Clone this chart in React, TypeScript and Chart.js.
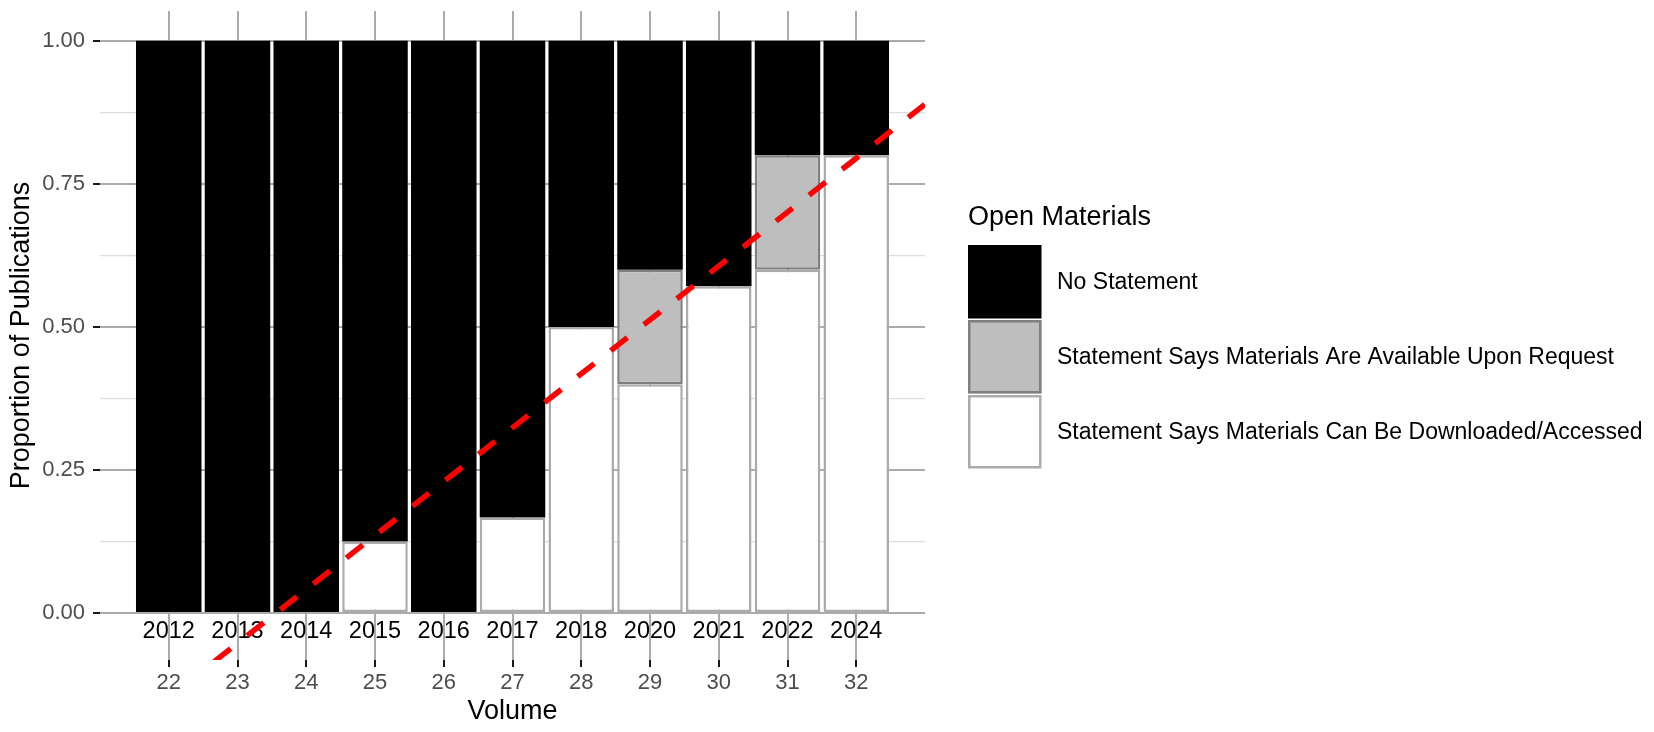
import React, { useEffect, useRef } from 'react';
import { Chart, registerables } from 'chart.js';

Chart.register(...registerables);

// ---- data ----
const volumes = [22, 23, 24, 25, 26, 27, 28, 29, 30, 31, 32];
const years = ['2012', '2013', '2014', '2015', '2016', '2017', '2018', '2020', '2021', '2022', '2024'];
const downloadable = [0, 0, 0, 0.125, 0, 0.167, 0.5, 0.4, 0.571, 0.6, 0.8];
const uponRequest = [0, 0, 0, 0, 0, 0, 0, 0.2, 0, 0.2, 0];
const noStatement = [1, 1, 1, 0.875, 1, 0.833, 0.5, 0.4, 0.429, 0.2, 0.2];
const yTickValues = [0, 0.125, 0.25, 0.375, 0.5, 0.625, 0.75, 0.875, 1];
const trendVolumes = [21, 33];
const trendValues = [-0.241, 0.889];
const seriesLabels = [
  'Statement Says Materials Can Be Downloaded/Accessed',
  'Statement Says Materials Are Available Upon Request',
  'No Statement',
];
const legendTitle = 'Open Materials';
const xTitle = 'Volume';
const yTitle = 'Proportion of Publications';

const FONT = '"Liberation Sans", Arial, sans-serif';

const isMajor = (v: number) => Math.abs(v * 4 - Math.round(v * 4)) < 1e-9;

const yearLabelsPlugin = {
  id: 'yearLabels',
  beforeDatasetsDraw(chart: any, _args: any, opts: any) {
    const { ctx, scales } = chart;
    ctx.save();
    ctx.font = `${opts.size}px ${FONT}`;
    ctx.fillStyle = opts.color;
    ctx.textAlign = 'center';
    ctx.textBaseline = 'middle';
    const y = scales.y.getPixelForValue(opts.value);
    volumes.forEach((v, i) => {
      ctx.fillText(years[i], scales.x.getPixelForValue(v), y);
    });
    ctx.restore();
  },
};

const legendPlugin = {
  id: 'ggLegend',
  afterDraw(chart: any, _args: any, opts: any) {
    const { ctx } = chart;
    ctx.save();
    ctx.textAlign = 'left';
    ctx.textBaseline = 'middle';
    ctx.fillStyle = '#000';
    ctx.font = `${opts.titleSize}px ${FONT}`;
    ctx.fillText(legendTitle, opts.x, opts.titleY);
    const bars = chart.data.datasets.filter((d: any) => d.type !== 'line').slice().reverse();
    bars.forEach((ds: any, i: number) => {
      const top = opts.keyTop + i * opts.keyStep;
      const s = opts.keySize;
      ctx.fillStyle = ds.backgroundColor;
      ctx.fillRect(opts.x, top, s, s);
      const bw = ds.borderWidth || 0;
      if (bw > 0) {
        ctx.strokeStyle = ds.borderColor;
        ctx.lineWidth = bw;
        ctx.strokeRect(opts.x + bw / 2, top + bw / 2, s - bw, s - bw);
      }
      ctx.fillStyle = '#000';
      ctx.font = `${opts.labelSize}px ${FONT}`;
      ctx.fillText(ds.label, opts.labelX, top + s / 2 + 1);
    });
    ctx.restore();
  },
};

export default function App() {
  const ref = useRef<HTMLCanvasElement>(null);

  useEffect(() => {
    const pts = (vals: number[]) => volumes.map((v, i) => ({ x: v, y: vals[i] }));
    const chart = new Chart(ref.current as HTMLCanvasElement, {
      type: 'bar',
      data: {
        datasets: [
          {
            type: 'line',
            label: 'trend',
            data: trendVolumes.map((v, i) => ({ x: v, y: trendValues[i] })),
            borderColor: '#ff0000',
            borderWidth: 5.5,
            borderDash: [21, 21],
            borderDashOffset: 23,
            pointRadius: 0,
            fill: false,
            tension: 0,
            clip: 0,
            order: -1,
            stack: 'trend',
          } as any,
          {
            label: seriesLabels[0],
            data: pts(downloadable),
            backgroundColor: '#ffffff',
            borderColor: '#ababab',
            borderWidth: 2.5,
            borderSkipped: false,
          } as any,
          {
            label: seriesLabels[1],
            data: pts(uponRequest),
            backgroundColor: '#bebebe',
            borderColor: '#7f7f7f',
            borderWidth: 2.5,
            borderSkipped: false,
          } as any,
          {
            label: seriesLabels[2],
            data: pts(noStatement),
            backgroundColor: '#000000',
            borderColor: '#000000',
            borderWidth: 0,
          } as any,
        ],
      },
      options: {
        animation: false,
        responsive: true,
        maintainAspectRatio: false,
        categoryPercentage: 1,
        barPercentage: 0.953,
        layout: { padding: { top: 11, right: 729, bottom: 0, left: 0 } },
        plugins: {
          legend: { display: false },
          tooltip: { enabled: false },
          yearLabels: { value: -0.032, size: 23.5, color: '#000' },
          ggLegend: {
            x: 968,
            titleY: 218,
            titleSize: 27,
            keyTop: 245,
            keySize: 73.5,
            keyStep: 75,
            labelX: 1057,
            labelSize: 23,
          },
        } as any,
        scales: {
          x: {
            type: 'linear',
            min: 21,
            max: 33,
            stacked: true,
            offset: false,
            afterBuildTicks: (s: any) => {
              s.ticks = volumes.map((v) => ({ value: v }));
            },
            afterFit: (s: any) => {
              s.height = 72;
              s.paddingLeft = 0;
              s.paddingRight = 0;
            },
            grid: {
              offset: false,
              color: '#ababab',
              lineWidth: 2,
              tickColor: '#1a1a1a',
              tickLength: 7,
              tickWidth: 2,
            },
            border: { display: false },
            ticks: {
              autoSkip: false,
              maxRotation: 0,
              padding: 3,
              color: '#4d4d4d',
              font: { family: FONT, size: 22 },
              callback: (v: any) => String(v),
            },
            title: {
              display: true,
              text: xTitle,
              color: '#000',
              font: { family: FONT, size: 27 },
              padding: { top: 0, bottom: 4 },
            },
          } as any,
          y: {
            type: 'linear',
            min: -0.082,
            max: 1.052,
            stacked: true,
            afterBuildTicks: (s: any) => {
              s.ticks = yTickValues.map((v) => ({ value: v }));
            },
            afterFit: (s: any) => {
              s.width = 100;
              s.paddingTop = 0;
              s.paddingBottom = 0;
            },
            grid: {
              color: (c: any) => (c.tick && isMajor(c.tick.value) ? '#ababab' : '#dedede'),
              lineWidth: (c: any) => (c.tick && isMajor(c.tick.value) ? 2 : 1.3),
              tickColor: (c: any) => (c.tick && isMajor(c.tick.value) ? '#1a1a1a' : 'rgba(0,0,0,0)'),
              tickLength: 7,
              tickWidth: 2,
            },
            border: { display: false },
            ticks: {
              padding: 8,
              color: '#4d4d4d',
              font: { family: FONT, size: 22 },
              callback: (v: any) => (isMajor(Number(v)) ? Number(v).toFixed(2) : ''),
            },
            title: {
              display: true,
              text: yTitle,
              color: '#000',
              font: { family: FONT, size: 27 },
              padding: { top: 5, bottom: 0 },
            },
          } as any,
        },
      } as any,
      plugins: [yearLabelsPlugin, legendPlugin],
    });
    return () => chart.destroy();
  }, []);

  return (
    <div style={{ position: 'fixed', left: 0, top: 0, width: 1654, height: 732, background: '#ffffff' }}>
      <canvas ref={ref} />
    </div>
  );
}
